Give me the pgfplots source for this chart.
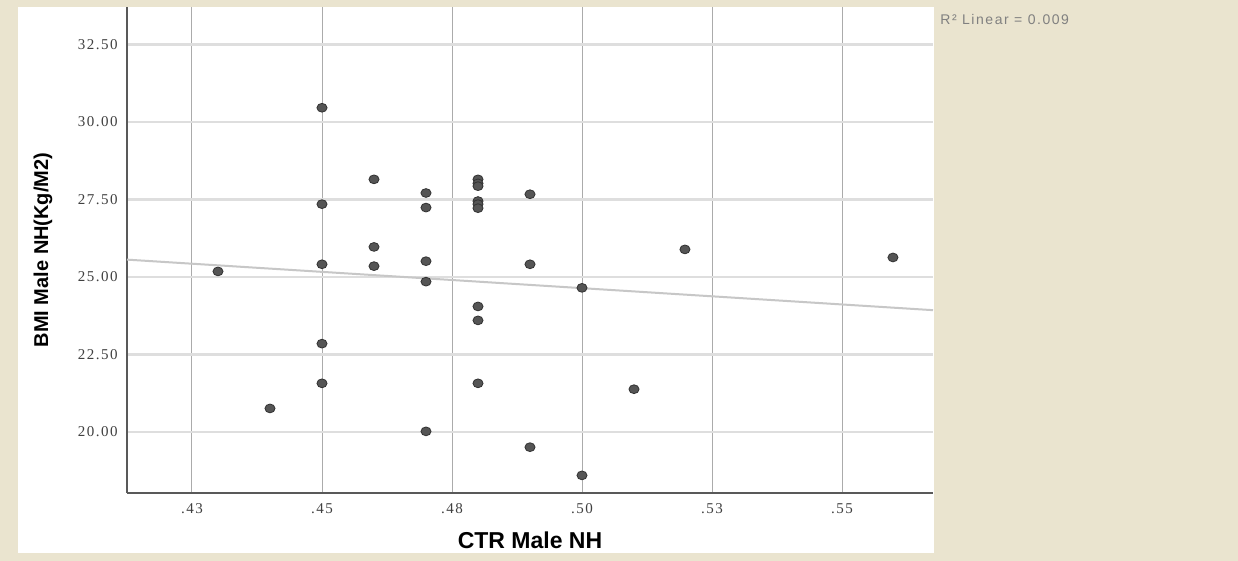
\documentclass[border=0pt]{standalone}
\usepackage{pgfplots}
\pgfplotsset{compat=1.18}
\usepackage{fontspec}
\setmainfont{Liberation Sans}
\newfontfamily\tickfont[LetterSpace=10]{Liberation Serif}
\newfontfamily\rfont[LetterSpace=11]{Liberation Sans}
\definecolor{bgbeige}{RGB}{234,228,207}
\definecolor{ptfill}{RGB}{85,85,85}
\definecolor{ptedge}{RGB}{50,50,50}
\begin{document}
\begin{tikzpicture}
\fill[bgbeige] (-63.5pt,-34pt) rectangle (555.5pt,246.5pt);
\fill[white] (-54.5pt,-30pt) rectangle (403.5pt,243pt);
\begin{axis}[
  at={(0,0)}, anchor=south west,
  scale only axis,
  width=403pt, height=243pt,
  xmin=0.4125, xmax=0.5675,
  ymin=18.032, ymax=33.71,
  axis x line*=bottom, axis y line*=left,
  axis line style={-, draw=black!65, line width=0.8pt},
  major tick length=0pt,
  xtick={0.425,0.45,0.475,0.5,0.525,0.55},
  xticklabels={.43,.45,.48,.50,.53,.55},
  ytick={20,22.5,25,27.5,30,32.5},
  yticklabels={20.00,22.50,25.00,27.50,30.00,32.50},
  xticklabel style={font=\tickfont\fontsize{7.5}{9}\selectfont, text=black!75, inner sep=0pt, anchor=north, yshift=-5pt},
  yticklabel style={font=\tickfont\fontsize{7.5}{9}\selectfont, text=black!75, inner sep=0pt, anchor=east, xshift=-4.5pt},
  xmajorgrids, ymajorgrids,
  every axis x grid/.style={draw=black!33, line width=0.5pt},
  every axis y grid/.style={draw=black!13, line width=1.4pt},
  xlabel={CTR Male NH},
  ylabel={BMI Male NH(Kg/M2)},
  every axis x label/.style={at={(axis description cs:0.5,-0.0967)}, anchor=center, font=\bfseries\fontsize{11.5}{13}\selectfont},
  every axis y label/.style={at={(axis description cs:-0.1042,0.5)}, rotate=90, anchor=center, font=\bfseries\fontsize{10}{12}\selectfont},
  clip=false,
]
\addplot[draw=black!22, line width=1pt] coordinates {(0.4125,25.56) (0.5675,23.93)};
\addplot[only marks, mark=*, mark size=2.2pt,
  mark options={fill=ptfill, draw=ptedge, line width=0.4pt, xscale=1.15}]
  coordinates {
  (0.430,25.18) (0.440,20.76)
  (0.450,30.46) (0.450,27.35) (0.450,25.41) (0.450,22.85) (0.450,21.57)
  (0.460,28.15) (0.460,25.97) (0.460,25.35)
  (0.470,27.71) (0.470,27.24) (0.470,25.51) (0.470,24.85) (0.470,20.02)
  (0.480,28.15) (0.480,28.02) (0.480,27.93) (0.480,27.45) (0.480,27.35) (0.480,27.22)
  (0.480,24.05) (0.480,23.60) (0.480,21.57)
  (0.490,27.67) (0.490,25.41) (0.490,19.51)
  (0.500,24.65) (0.500,18.60)
  (0.510,21.38)
  (0.5198,25.89)
  (0.5598,25.63)
  };
\end{axis}
\node[anchor=west, inner sep=0pt, text=black!50, font=\rfont\fontsize{7}{8}\selectfont] at (406.5pt,236.5pt) {R² Linear = 0.009};
\pgfresetboundingbox
\useasboundingbox (-63.5pt,-34pt) rectangle (555.5pt,246.5pt);
\end{tikzpicture}
\end{document}
